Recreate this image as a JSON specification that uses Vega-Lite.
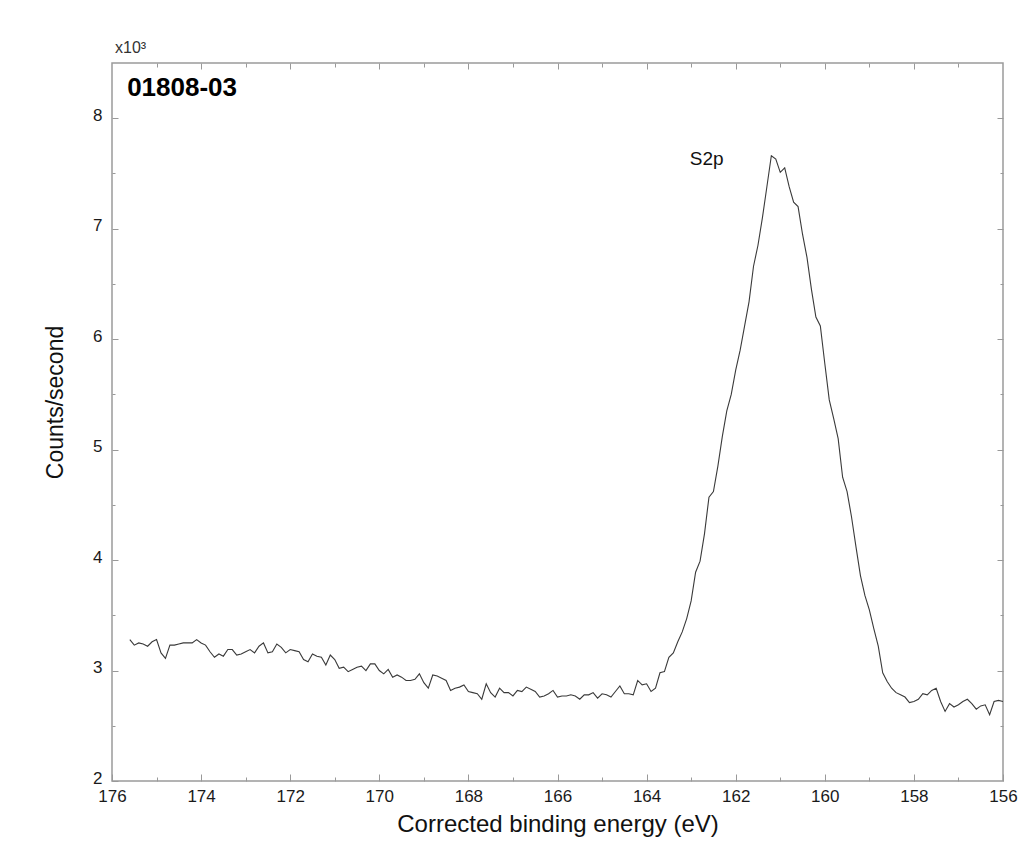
{
  "$schema": "https://vega.github.io/schema/vega-lite/v6.json",
  "autosize": "none",
  "width": 891,
  "height": 718,
  "padding": {"left": 112, "top": 63, "right": 16, "bottom": 67},
  "background": "white",
  "title": {"text": "x10³", "anchor": "start", "frame": "group", "fontSize": 16, "fontWeight": "normal", "font": "Liberation Sans", "color": "#333333", "offset": 7, "dx": 3},
  "data": {"values": [
    {"energy":175.6,"counts":3.28},{"energy":175.5,"counts":3.23},{"energy":175.4,"counts":3.25},{"energy":175.3,"counts":3.24},{"energy":175.2,"counts":3.22},{"energy":175.1,"counts":3.26},{"energy":175.0,"counts":3.28},{"energy":174.9,"counts":3.16},{"energy":174.8,"counts":3.11},{"energy":174.7,"counts":3.23},
    {"energy":174.6,"counts":3.23},{"energy":174.5,"counts":3.24},{"energy":174.4,"counts":3.25},{"energy":174.3,"counts":3.25},{"energy":174.2,"counts":3.25},{"energy":174.1,"counts":3.28},{"energy":174.0,"counts":3.25},{"energy":173.9,"counts":3.23},{"energy":173.8,"counts":3.17},{"energy":173.7,"counts":3.12},
    {"energy":173.6,"counts":3.15},{"energy":173.5,"counts":3.13},{"energy":173.4,"counts":3.19},{"energy":173.3,"counts":3.19},{"energy":173.2,"counts":3.14},{"energy":173.1,"counts":3.15},{"energy":173.0,"counts":3.17},{"energy":172.9,"counts":3.19},{"energy":172.8,"counts":3.16},{"energy":172.7,"counts":3.22},
    {"energy":172.6,"counts":3.25},{"energy":172.5,"counts":3.16},{"energy":172.4,"counts":3.17},{"energy":172.3,"counts":3.24},{"energy":172.2,"counts":3.21},{"energy":172.1,"counts":3.16},{"energy":172.0,"counts":3.19},{"energy":171.9,"counts":3.18},{"energy":171.8,"counts":3.17},{"energy":171.7,"counts":3.10},
    {"energy":171.6,"counts":3.08},{"energy":171.5,"counts":3.15},{"energy":171.4,"counts":3.13},{"energy":171.3,"counts":3.12},{"energy":171.2,"counts":3.05},{"energy":171.1,"counts":3.14},{"energy":171.0,"counts":3.10},{"energy":170.9,"counts":3.02},{"energy":170.8,"counts":3.03},{"energy":170.7,"counts":2.99},
    {"energy":170.6,"counts":3.01},{"energy":170.5,"counts":3.03},{"energy":170.4,"counts":3.04},{"energy":170.3,"counts":3.00},{"energy":170.2,"counts":3.06},{"energy":170.1,"counts":3.06},{"energy":170.0,"counts":3.00},{"energy":169.9,"counts":2.97},{"energy":169.8,"counts":3.01},{"energy":169.7,"counts":2.94},
    {"energy":169.6,"counts":2.96},{"energy":169.5,"counts":2.94},{"energy":169.4,"counts":2.91},{"energy":169.3,"counts":2.91},{"energy":169.2,"counts":2.92},{"energy":169.1,"counts":2.97},{"energy":169.0,"counts":2.89},{"energy":168.9,"counts":2.84},{"energy":168.8,"counts":2.96},{"energy":168.7,"counts":2.95},
    {"energy":168.6,"counts":2.93},{"energy":168.5,"counts":2.91},{"energy":168.4,"counts":2.82},{"energy":168.3,"counts":2.84},{"energy":168.2,"counts":2.85},{"energy":168.1,"counts":2.87},{"energy":168.0,"counts":2.81},{"energy":167.9,"counts":2.80},{"energy":167.8,"counts":2.79},{"energy":167.7,"counts":2.74},
    {"energy":167.6,"counts":2.88},{"energy":167.5,"counts":2.80},{"energy":167.4,"counts":2.76},{"energy":167.3,"counts":2.84},{"energy":167.2,"counts":2.80},{"energy":167.1,"counts":2.80},{"energy":167.0,"counts":2.77},{"energy":166.9,"counts":2.82},{"energy":166.8,"counts":2.81},{"energy":166.7,"counts":2.85},
    {"energy":166.6,"counts":2.83},{"energy":166.5,"counts":2.81},{"energy":166.4,"counts":2.76},{"energy":166.3,"counts":2.77},{"energy":166.2,"counts":2.79},{"energy":166.1,"counts":2.82},{"energy":166.0,"counts":2.76},{"energy":165.9,"counts":2.77},{"energy":165.8,"counts":2.77},{"energy":165.7,"counts":2.78},
    {"energy":165.6,"counts":2.77},{"energy":165.5,"counts":2.74},{"energy":165.4,"counts":2.78},{"energy":165.3,"counts":2.78},{"energy":165.2,"counts":2.80},{"energy":165.1,"counts":2.75},{"energy":165.0,"counts":2.79},{"energy":164.9,"counts":2.78},{"energy":164.8,"counts":2.76},{"energy":164.7,"counts":2.81},
    {"energy":164.6,"counts":2.86},{"energy":164.5,"counts":2.79},{"energy":164.4,"counts":2.79},{"energy":164.3,"counts":2.78},{"energy":164.2,"counts":2.91},{"energy":164.1,"counts":2.87},{"energy":164.0,"counts":2.88},{"energy":163.9,"counts":2.81},{"energy":163.8,"counts":2.84},{"energy":163.7,"counts":2.98},
    {"energy":163.6,"counts":2.99},{"energy":163.5,"counts":3.12},{"energy":163.4,"counts":3.16},{"energy":163.3,"counts":3.26},{"energy":163.2,"counts":3.35},{"energy":163.1,"counts":3.47},{"energy":163.0,"counts":3.63},{"energy":162.9,"counts":3.89},{"energy":162.8,"counts":3.99},{"energy":162.7,"counts":4.24},
    {"energy":162.6,"counts":4.57},{"energy":162.5,"counts":4.62},{"energy":162.4,"counts":4.85},{"energy":162.3,"counts":5.12},{"energy":162.2,"counts":5.35},{"energy":162.1,"counts":5.50},{"energy":162.0,"counts":5.72},{"energy":161.9,"counts":5.90},{"energy":161.8,"counts":6.12},{"energy":161.7,"counts":6.34},
    {"energy":161.6,"counts":6.66},{"energy":161.5,"counts":6.85},{"energy":161.4,"counts":7.10},{"energy":161.3,"counts":7.38},{"energy":161.2,"counts":7.66},{"energy":161.1,"counts":7.63},{"energy":161.0,"counts":7.51},{"energy":160.9,"counts":7.55},{"energy":160.8,"counts":7.38},{"energy":160.7,"counts":7.24},
    {"energy":160.6,"counts":7.20},{"energy":160.5,"counts":6.95},{"energy":160.4,"counts":6.74},{"energy":160.3,"counts":6.45},{"energy":160.2,"counts":6.20},{"energy":160.1,"counts":6.12},{"energy":160.0,"counts":5.78},{"energy":159.9,"counts":5.45},{"energy":159.8,"counts":5.28},{"energy":159.7,"counts":5.10},
    {"energy":159.6,"counts":4.75},{"energy":159.5,"counts":4.62},{"energy":159.4,"counts":4.39},{"energy":159.3,"counts":4.12},{"energy":159.2,"counts":3.86},{"energy":159.1,"counts":3.68},{"energy":159.0,"counts":3.55},{"energy":158.9,"counts":3.38},{"energy":158.8,"counts":3.22},{"energy":158.7,"counts":2.98},
    {"energy":158.6,"counts":2.90},{"energy":158.5,"counts":2.84},{"energy":158.4,"counts":2.80},{"energy":158.3,"counts":2.78},{"energy":158.2,"counts":2.76},{"energy":158.1,"counts":2.71},{"energy":158.0,"counts":2.72},{"energy":157.9,"counts":2.74},{"energy":157.8,"counts":2.79},{"energy":157.7,"counts":2.78},
    {"energy":157.6,"counts":2.82},{"energy":157.5,"counts":2.84},{"energy":157.4,"counts":2.72},{"energy":157.3,"counts":2.63},{"energy":157.2,"counts":2.70},{"energy":157.1,"counts":2.67},{"energy":157.0,"counts":2.69},{"energy":156.9,"counts":2.72},{"energy":156.8,"counts":2.74},{"energy":156.7,"counts":2.70},
    {"energy":156.6,"counts":2.65},{"energy":156.5,"counts":2.68},{"energy":156.4,"counts":2.69},{"energy":156.3,"counts":2.60},{"energy":156.2,"counts":2.72},{"energy":156.1,"counts":2.73},{"energy":156.0,"counts":2.72}
  ]},
  "layer": [
    {
      "mark": {"type": "line", "color": "#3a3a3a", "strokeWidth": 1.1},
      "encoding": {
        "x": {"field": "energy", "type": "quantitative",
              "scale": {"domain": [156, 176], "reverse": true, "nice": false, "zero": false},
              "axis": {"orient": "bottom", "values": [156,158,160,162,164,166,168,170,172,174,176], "tickSize": -7, "labelPadding": 14, "labelFlush": false, "labelOverlap": false, "title": "Corrected binding energy (eV)", "titleFontSize": 24, "titlePadding": 8}},
        "y": {"field": "counts", "type": "quantitative",
              "scale": {"domain": [2, 8.5], "nice": false, "zero": false},
              "axis": {"orient": "left", "values": [2,3,4,5,6,7,8], "tickSize": -6, "labelPadding": 16, "labelOffset": -3, "labelFlush": false, "labelOverlap": false, "title": "Counts/second", "titleFontSize": 23, "titlePadding": 25, "titleY": 339}}
      }
    },
    {
      "mark": {"type": "line", "opacity": 0},
      "encoding": {
        "x": {"field": "energy", "type": "quantitative",
              "axis": {"orient": "bottom", "values": [157,159,161,163,165,167,169,171,173,175], "tickSize": -4, "labels": false, "title": null}},
        "y": {"field": "counts", "type": "quantitative",
              "axis": {"orient": "left", "values": [2.5,3.5,4.5,5.5,6.5,7.5], "tickSize": -3, "labels": false, "title": null}}
      }
    },
    {
      "mark": {"type": "line", "opacity": 0},
      "encoding": {
        "x": {"field": "energy", "type": "quantitative",
              "axis": {"orient": "top", "values": [158,160,162,164,166,168,170,172,174], "tickSize": -6, "labels": false, "title": null}},
        "y": {"field": "counts", "type": "quantitative",
              "axis": {"orient": "right", "values": [3,4,5,6,7,8], "tickSize": -6, "labels": false, "title": null}}
      }
    },
    {
      "mark": {"type": "line", "opacity": 0},
      "encoding": {
        "x": {"field": "energy", "type": "quantitative",
              "axis": {"orient": "top", "values": [157,159,161,163,165,167,169,171,173,175], "tickSize": -4, "labels": false, "title": null}},
        "y": {"field": "counts", "type": "quantitative",
              "axis": {"orient": "right", "values": [2.5,3.5,4.5,5.5,6.5,7.5], "tickSize": -3, "labels": false, "title": null}}
      }
    },
    {
      "data": {"values": [{"energy": 175.66, "counts": 8.2, "label": "01808-03"}]},
      "mark": {"type": "text", "align": "left", "baseline": "alphabetic", "fontSize": 26, "fontWeight": "bold", "font": "Liberation Sans", "color": "#000000"},
      "encoding": {
        "x": {"field": "energy", "type": "quantitative", "axis": null},
        "y": {"field": "counts", "type": "quantitative", "axis": null},
        "text": {"field": "label"}
      }
    },
    {
      "data": {"values": [{"energy": 163.03, "counts": 7.58, "label": "S2p"}]},
      "mark": {"type": "text", "align": "left", "baseline": "alphabetic", "fontSize": 19, "font": "Liberation Sans", "color": "#111111"},
      "encoding": {
        "x": {"field": "energy", "type": "quantitative", "axis": null},
        "y": {"field": "counts", "type": "quantitative", "axis": null},
        "text": {"field": "label"}
      }
    }
  ],
  "resolve": {"axis": {"x": "independent", "y": "independent"}},
  "config": {
    "font": "Liberation Sans",
    "view": {"stroke": "#9b9b9b", "strokeWidth": 1.5},
    "axis": {"grid": false, "domain": false, "labelFont": "Liberation Sans", "labelFontSize": 17, "labelColor": "#1a1a1a", "tickColor": "#999999", "tickWidth": 1, "titleFont": "Liberation Sans", "titleFontWeight": "normal", "titleColor": "#111111"}
  }
}
